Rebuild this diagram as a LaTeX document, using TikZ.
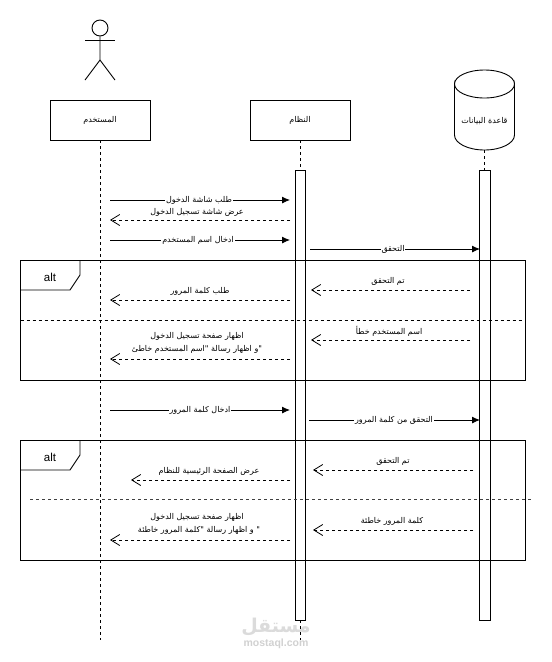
\documentclass[tikz,border=0pt]{standalone}
\usepackage{fontspec}
\setmainfont{Liberation Sans}
\newfontfamily\arabicfont[Script=Arabic]{DejaVu Sans}
\TeXXeTstate=1
\usetikzlibrary{arrows.meta}
\newcommand{\ar}[1]{{\arabicfont\fontsize{8}{11}\selectfont\beginR #1\endR}}
\tikzset{
  x=1pt,y=-1pt,
  every path/.style={line width=0.9pt},
  headbox/.style={draw,minimum width=100pt,minimum height=40pt,inner sep=0pt},
  actbox/.style={draw,fill=white,minimum width=10pt,minimum height=450pt,inner sep=0pt},
  frameb/.style={draw,minimum width=505pt,minimum height=120pt,inner sep=0pt},
  life/.style={dash pattern=on 3pt off 3pt},
  call/.style={-{Latex[length=8pt,width=7pt]}},
  reply/.style={dash pattern=on 3pt off 3pt,-{Straight Barb[length=9pt,width=11pt,line width=0.8pt]}},
  lab/.style={inner sep=1pt,align=center},
  solidlab/.style={lab,fill=white},
  sep/.style={dash pattern=on 3pt off 3pt},
}
\begin{document}
\begin{tikzpicture}
\useasboundingbox (0,0) rectangle (552,662);
\fill[white] (0,0) rectangle (552,662);

% watermark
\node[lab,text=black!14] (wm1) at (276,627) {{\arabicfont\bfseries\fontsize{19}{22}\selectfont\beginR مستقل\endR}};
\node[lab,text=black!18] (wm2) at (276,644) {\fontsize{10.5}{12}\selectfont\bfseries mostaql.com};

% actor
\node[draw,circle,minimum size=16pt,inner sep=0pt] (head) at (100,28) {};
\coordinate (hip) at (100,60);
\coordinate (armL) at (85,40);
\coordinate (armR) at (115,40);
\coordinate (legL) at (85,80);
\coordinate (legR) at (115,80);
\draw (head.south) -- (hip) -- (legL);
\draw (hip) -- (legR);
\draw (armL) -- (armR);

% participants
\node[headbox] (user) at (100,120) {\ar{المستخدم}};
\node[headbox] (sys) at (300,120) {\ar{النظام}};
\node[inner sep=0pt,minimum width=60pt,minimum height=80pt] (db) at (484.5,110) {};
\node[lab] (dbl) at (484.5,121.5) {\ar{قاعدة البيانات}};
\draw (454.5,84) arc[start angle=180,end angle=0,x radius=30pt,y radius=-14pt]
      -- (514.5,135) arc[start angle=0,end angle=180,x radius=30pt,y radius=-15pt] -- cycle;
\draw (454.5,84) arc[start angle=180,end angle=360,x radius=30pt,y radius=-14pt];

% lifeline ends
\coordinate (userEnd) at (100,640);
\coordinate (sysEnd) at (300,640);
\draw[life] (user.south) -- (userEnd);
\draw[life] (sys.south) -- (sysEnd);
\node[actbox] (actS) at (300,395) {};
\node[actbox,minimum width=11pt] (actD) at (484.5,395) {};
\draw[life] (db.south) -- (actD.north);

% frames
\node[frameb] (f1) at (273,320) {};
\coordinate (t1a) at (80,260);
\coordinate (t1b) at (80,275);
\coordinate (t1c) at (70,290);
\coordinate (t1d) at (20.5,290);
\draw (t1a) -- (t1b) -- (t1c) -- (t1d);
\node (alt1) at (50,277) {\fontsize{11.5}{14}\selectfont alt};
\coordinate (s1a) at (20.5,320);
\coordinate (s1b) at (522,320);
\draw[sep] (s1a) -- (s1b);

\node[frameb] (f2) at (273,500) {};
\coordinate (t2a) at (80,440);
\coordinate (t2b) at (80,455);
\coordinate (t2c) at (70,470);
\coordinate (t2d) at (20.5,470);
\draw (t2a) -- (t2b) -- (t2c) -- (t2d);
\node (alt2) at (50,457) {\fontsize{11.5}{14}\selectfont alt};
\coordinate (s2a) at (30,499.5);
\coordinate (s2b) at (531,499.5);
\draw[sep,black!75] (s2a) -- (s2b);

% message end points
\coordinate (a1) at (110,200); \coordinate (b1) at (290,200);
\coordinate (a2) at (290,220); \coordinate (b2) at (110,220);
\coordinate (a3) at (110,240); \coordinate (b3) at (290,240);
\coordinate (a4) at (310,249); \coordinate (b4) at (480,249);
\coordinate (a5) at (470,290); \coordinate (b5) at (311,290);
\coordinate (a6) at (290,300); \coordinate (b6) at (110,300);
\coordinate (a7) at (470,340); \coordinate (b7) at (311,340);
\coordinate (a8) at (290,359); \coordinate (b8) at (110,359);
\coordinate (a9) at (110,410); \coordinate (b9) at (290,410);
\coordinate (a10) at (309,420); \coordinate (b10) at (480,420);
\coordinate (a11) at (473,470); \coordinate (b11) at (313,470);
\coordinate (a12) at (290,480); \coordinate (b12) at (131,480);
\coordinate (a13) at (473,530); \coordinate (b13) at (313,530);
\coordinate (a14) at (290,540); \coordinate (b14) at (110,540);

\draw[call] (a1) -- (b1);
\draw[reply] (a2) -- (b2);
\draw[call] (a3) -- (b3);
\draw[call] (a4) -- (b4);
\draw[reply] (a5) -- (b5);
\draw[reply] (a6) -- (b6);
\draw[reply] (a7) -- (b7);
\draw[reply] (a8) -- (b8);
\draw[call] (a9) -- (b9);
\draw[call] (a10) -- (b10);
\draw[reply] (a11) -- (b11);
\draw[reply] (a12) -- (b12);
\draw[reply] (a13) -- (b13);
\draw[reply] (a14) -- (b14);

% labels
\node[solidlab] (l1) at (199,200) {\ar{طلب شاشة الدخول}};
\node[lab] (l2) at (197,212) {\ar{عرض شاشة تسجيل الدخول}};
\node[solidlab] (l3) at (198,240) {\ar{ادخال اسم المستخدم}};
\node[solidlab] (l4) at (393,249) {\ar{التحقق}};
\node[lab] (l5) at (388,281.5) {\ar{تم التحقق}};
\node[lab] (l6) at (200,291) {\ar{طلب كلمة المرور}};
\node[lab] (l7) at (389,331) {\ar{اسم المستخدم خطأ}};
\node[lab] (l8a) at (197,336) {\ar{اظهار صفحة تسجيل الدخول}};
\node[lab] (l8b) at (197,349) {\ar{"و اظهار رسالة "اسم المستخدم خاطئ}};
\node[solidlab] (l9) at (200,410) {\ar{ادخال كلمة المرور}};
\node[solidlab] (l10) at (394,420) {\ar{التحقق من كلمة المرور}};
\node[lab] (l11) at (393,461) {\ar{تم التحقق}};
\node[lab] (l12) at (209,471) {\ar{عرض الصفحة الرئيسية للنظام}};
\node[lab] (l13) at (392,521) {\ar{كلمة المرور خاطئة}};
\node[lab] (l14a) at (197,517) {\ar{اظهار صفحة تسجيل الدخول}};
\node[lab] (l14b) at (199,530.5) {\ar{" و اظهار رسالة "كلمة المرور خاطئة}};
\end{tikzpicture}
\end{document}
